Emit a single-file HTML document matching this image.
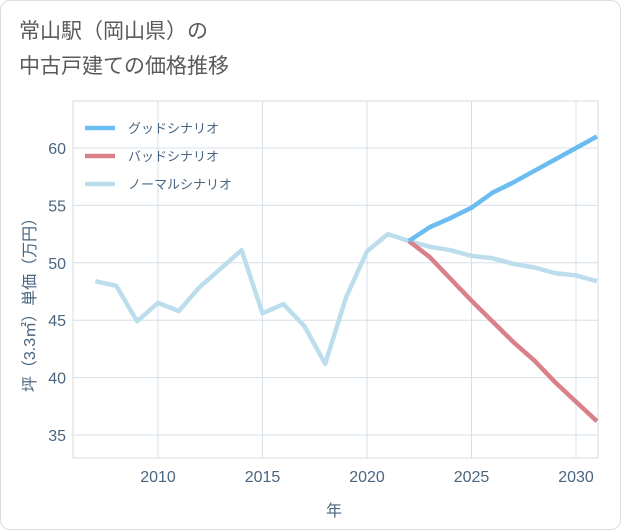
<!DOCTYPE html>
<html><head><meta charset="utf-8"><style>
body{margin:0;background:#fff;}
.wrap{position:relative;width:621px;height:530px;box-sizing:border-box;border:1px solid #ddd;border-radius:10px;background:#fff;overflow:hidden;font-family:"Liberation Sans","Noto Sans CJK JP",sans-serif;}
.title{position:absolute;left:18px;top:13px;font-size:21px;line-height:35px;color:#5a5a5a;}
</style></head><body>
<div class="wrap">
<div class="title">常山駅（岡山県）の<br>中古戸建ての価格推移</div>
<svg id="chart" width="621" height="530" style="position:absolute;left:0;top:0"></svg>
</div>
<script>
const years=[2007,2008,2009,2010,2011,2012,2013,2014,2015,2016,2017,2018,2019,2020,2021,2022];
const history=[48.4,48.0,44.9,46.5,45.8,47.9,49.5,51.1,45.6,46.4,44.5,41.2,47.0,51.0,52.5,51.9];
const futureYears=[2022,2023,2024,2025,2026,2027,2028,2029,2030,2031];
const good=[51.9,53.1,53.9,54.8,56.1,57.0,58.0,59.0,60.0,61.0];
const bad=[51.9,50.5,48.6,46.7,44.9,43.1,41.5,39.6,37.9,36.2];
const normal=[51.9,51.4,51.1,50.6,50.4,49.9,49.6,49.1,48.9,48.4];
const xTicks=[2010,2015,2020,2025,2030];
const yTicks=[35,40,45,50,55,60];
const legendLabels=["グッドシナリオ","バッドシナリオ","ノーマルシナリオ"];

const L=72,R=597,T=100,B=457;
const x=v=>157+(v-2010)*20.9;
const y=v=>147+(60-v)*11.48;
const svg=document.getElementById('chart');
const NS='http://www.w3.org/2000/svg';
function mk(tag,attrs){const e=document.createElementNS(NS,tag);for(const k in attrs)e.setAttribute(k,attrs[k]);svg.appendChild(e);return e;}
const defs=mk('defs',{});
const cp=document.createElementNS(NS,'clipPath');cp.setAttribute('id','clip');
const cr=document.createElementNS(NS,'rect');cr.setAttribute('x',L);cr.setAttribute('y',T);cr.setAttribute('width',R-L);cr.setAttribute('height',B-T);
cp.appendChild(cr);defs.appendChild(cp);
const frame=mk('rect',{x:L,y:T,width:R-L,height:B-T,fill:'none',stroke:'#d5dde3'});


xTicks.forEach(t=>{
 const g=mk('line',{x1:x(t),x2:x(t),y1:T,y2:B,stroke:'#d5e0e8'});
 
 
 const tx=mk('text',{x:x(t),y:481,'text-anchor':'middle','font-size':16,fill:'#4a6580'});
 tx.textContent=t;
 
 
});
yTicks.forEach(t=>{
 const g=mk('line',{x1:L,x2:R,y1:y(t),y2:y(t),stroke:'#d5e0e8'});
 
 
 const tx=mk('text',{x:65,y:y(t)+6,'text-anchor':'end','font-size':16,fill:'#4a6580'});
 tx.textContent=t;
 
 
});
function line(xs,vs,color,name){
 const p=mk('polyline',{points:xs.map((a,i)=>x(a)+','+y(vs[i])).join(' '),fill:'none',stroke:color,'stroke-width':4.5,'stroke-linejoin':'round','clip-path':'url(#clip)'});
 
 
}
line(years,history,'#bcdeec','history-line');
line(futureYears,normal,'#bcdeec','normal-scenario-line');
line(futureYears,bad,'#d9808a','bad-scenario-line');
line(futureYears,good,'#6bbcf0','good-scenario-line');
const colors=['#6bbcf0','#d9808a','#bcdeec'];
legendLabels.forEach((lab,i)=>{
 const yy=127+i*28;
 const l=mk('line',{x1:84,x2:114,y1:yy,y2:yy,stroke:colors[i],'stroke-width':4.5});
 
 
 const t=mk('text',{x:127,y:yy+5,'font-size':13,fill:'#4a6580'});
 t.textContent=lab;
 
 
});
const xt=mk('text',{x:333,y:515,'text-anchor':'middle','font-size':16,fill:'#4a6580'});
xt.textContent='年';


const yt=mk('text',{x:0,y:0,'text-anchor':'middle','font-size':16,fill:'#4a6580',transform:'translate(34,300) rotate(-90)'});
yt.textContent='坪（3.3㎡）単価（万円）';


</script>
</body></html>
